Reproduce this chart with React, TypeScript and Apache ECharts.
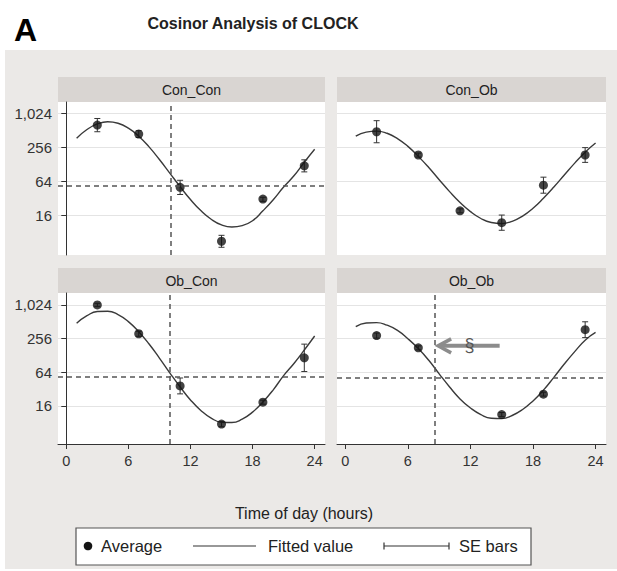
import React, { useEffect, useRef } from "react";
import * as echarts from "echarts";

const panelNames = ["Con_Con", "Con_Ob", "Ob_Con", "Ob_Ob"];
const sampleHours = [3, 7, 11, 15, 19, 23];
const fitHours = [1, 2, 3, 4, 5, 6, 7, 8, 9, 10, 11, 12, 13, 14, 15, 16, 17, 18, 19, 20, 21, 22, 23, 24];
const xTicks = [0, 6, 12, 18, 24];
const yTicks = [16, 64, 256, 1024];

const avgConCon = [626, 434, 49.5, 5.5, 30.7, 119];
const seLowConCon = [478, 378, 37, 4.3, 28, 93];
const seHighConCon = [820, 499, 66, 7.0, 33, 152];
const fitConCon = [367, 523, 657, 719, 676, 553, 399, 258, 154, 88.6, 50.9, 30.1, 19.2, 13.5, 10.7, 9.8, 10.4, 12.7, 19.0, 29.9, 50.2, 79.3, 138, 234];

const avgConOb = [478, 185, 19, 11.7, 54, 185];
const seLowConOb = [305, 170, 17.5, 8.6, 39, 137];
const seHighConOb = [750, 200, 20.6, 16, 75, 250];
const fitConOb = [399, 471, 491, 449, 362, 263, 175, 111, 67.6, 41.6, 26.7, 18.4, 13.9, 11.8, 11.3, 12.4, 15.3, 21.1, 31.8, 50.2, 82.1, 133, 208, 302];

const avgObCon = [1024, 313, 36.5, 7.6, 18.7, 116];
const seLowObCon = [955, 282, 26.3, 6.8, 17.2, 66];
const seHighObCon = [1097, 347, 50.6, 8.4, 20.3, 204];
const fitObCon = [481, 657, 781, 792, 690, 516, 340, 205, 115, 62.7, 35, 20.5, 13.3, 9.7, 8.2, 8.1, 9.3, 12.4, 18.8, 31.1, 55.7, 92, 160, 285];

const avgObOb = [290, 175, null, 11.2, 26, 370];
const seLowObOb = [261, 161, null, 10.3, 24, 267];
const seHighObOb = [322, 190, null, 12.2, 28.2, 512];
const fitObOb = [419, 488, 495, 445, 360, 255, 170, 105, 60, 35, 21.4, 14.7, 11.2, 9.65, 9.5, 10.8, 13.8, 19.7, 30.7, 52, 90, 150, 240, 330];

const refHour = [10.1, null, 10, 8.6];
const refLevel = [54, null, 54, 50.5];

const arrowTail = [14.8, 190];
const arrowHead = [8.9, 190];
const sectionAt = [11.9, 190];

const FONT = "'Liberation Sans', Arial, Helvetica, sans-serif";

const averages = [avgConCon, avgConOb, avgObCon, avgObOb];
const seLows = [seLowConCon, seLowConOb, seLowObCon, seLowObOb];
const seHighs = [seHighConCon, seHighConOb, seHighObCon, seHighObOb];
const fits = [fitConCon, fitConOb, fitObCon, fitObOb];

const gridBoxes = [
  { left: 58, top: 102, width: 267, height: 153 },
  { left: 337, top: 102, width: 269, height: 153 },
  { left: 58, top: 293, width: 267, height: 151 },
  { left: 337, top: 293, width: 269, height: 151 },
];
const yRanges = [
  [1.65, 10.65],
  [1.65, 10.65],
  [1.74, 10.71],
  [1.74, 10.71],
];
const xRange = [-0.8, 25];

const lg = (v: number | null) => (v == null ? null : Math.log2(v));

export default function App() {
  const ref = useRef<HTMLDivElement>(null);
  useEffect(() => {
    if (!ref.current) return;
    const chart = echarts.init(ref.current, undefined, { renderer: "svg" });

    const grids = gridBoxes.map((g) => ({ ...g, containLabel: false }));
    const xAxes = gridBoxes.map((_, i) => {
      const bottom = i >= 2;
      return {
        type: "value",
        gridIndex: i,
        min: xRange[0],
        max: xRange[1],
        axisLine: { show: bottom, onZero: false, lineStyle: { color: "#333", width: 1 } },
        axisTick: { show: bottom, length: 5, customValues: xTicks, lineStyle: { color: "#333" } },
        axisLabel: {
          show: bottom,
          customValues: xTicks,
          color: "#333",
          fontSize: 14.5,
          fontFamily: FONT,
          margin: 9,
        },
        splitLine: { show: false },
      };
    });
    const yAxes = gridBoxes.map((_, i) => {
      const left = i % 2 === 0;
      return {
        type: "value",
        gridIndex: i,
        min: yRanges[i][0],
        max: yRanges[i][1],
        axisLine: { show: left, lineStyle: { color: "#333", width: 1 } },
        axisTick: { show: left, length: 5, customValues: yTicks.map((v) => Math.log2(v)), lineStyle: { color: "#333" } },
        axisLabel: {
          show: left,
          customValues: yTicks.map((v) => Math.log2(v)),
          formatter: (v: number) => Math.round(Math.pow(2, v)).toLocaleString("en-US"),
          color: "#333",
          fontSize: 15,
          fontFamily: FONT,
          margin: 6,
        },
        splitLine: { show: true, lineStyle: { color: "#e4e4e4", width: 1 } },
      };
    });

    const series: any[] = [];
    for (let i = 0; i < 4; i++) {
      const markData: any[] = [];
      if (refHour[i] != null) markData.push({ xAxis: refHour[i] });
      if (refLevel[i] != null) markData.push({ yAxis: lg(refLevel[i]) });
      series.push({
        type: "line",
        name: "Fitted value",
        xAxisIndex: i,
        yAxisIndex: i,
        data: fitHours.map((h, j) => [h, lg(fits[i][j])]),
        smooth: true,
        showSymbol: false,
        lineStyle: { color: "#3a3a3a", width: 1.4 },
        z: 2,
        markLine: {
          silent: true,
          symbol: "none",
          label: { show: false },
          lineStyle: { color: "#555", type: [5, 4], width: 1.5 },
          data: markData,
        },
      });
      const eb = sampleHours
        .map((h, j) => (seLows[i][j] == null ? null : [h, lg(seLows[i][j]), lg(seHighs[i][j])]))
        .filter((d) => d != null);
      series.push({
        type: "custom",
        name: "SE bars",
        xAxisIndex: i,
        yAxisIndex: i,
        data: eb,
        encode: { x: 0, y: [1, 2] },
        z: 3,
        renderItem: (params: any, api: any) => {
          const x = api.value(0);
          const p1 = api.coord([x, api.value(1)]);
          const p2 = api.coord([x, api.value(2)]);
          const w = 3;
          const st = { stroke: "#333", lineWidth: 1 };
          return {
            type: "group",
            children: [
              { type: "line", shape: { x1: p1[0], y1: p1[1], x2: p2[0], y2: p2[1] }, style: st },
              { type: "line", shape: { x1: p1[0] - w, y1: p1[1], x2: p1[0] + w, y2: p1[1] }, style: st },
              { type: "line", shape: { x1: p2[0] - w, y1: p2[1], x2: p2[0] + w, y2: p2[1] }, style: st },
            ],
          };
        },
      });
      series.push({
        type: "scatter",
        name: "Average",
        xAxisIndex: i,
        yAxisIndex: i,
        data: sampleHours
          .map((h, j) => (averages[i][j] == null ? null : [h, lg(averages[i][j])]))
          .filter((d) => d != null),
        symbol: "circle",
        symbolSize: 9,
        itemStyle: { color: "#141414" },
        z: 4,
      });
    }

    const staticEls: any[] = [];
    staticEls.push({
      type: "rect",
      id: "bg",
      shape: { x: 5, y: 50, width: 612, height: 519 },
      style: { fill: "#ebe9e7" },
      z: -20,
      silent: true,
    });
    gridBoxes.forEach((g, i) => {
      staticEls.push({
        type: "rect",
        id: "plot" + i,
        shape: { x: g.left, y: g.top, width: g.width, height: g.height },
        style: { fill: "#ffffff" },
        z: -15,
        silent: true,
      });
      staticEls.push({
        type: "rect",
        id: "head" + i,
        shape: { x: g.left, y: g.top - 25, width: g.width, height: 25 },
        style: { fill: "#d9d5d2" },
        z: -15,
        silent: true,
      });
      staticEls.push({
        type: "text",
        id: "headt" + i,
        x: g.left + g.width / 2,
        y: g.top - 12.5,
        style: {
          text: panelNames[i],
          fill: "#222",
          font: `14px ${FONT}`,
          textAlign: "center",
          textVerticalAlign: "middle",
        },
        z: 10,
      });
    });
    staticEls.push({
      type: "text",
      id: "letterA",
      x: 14,
      y: 30,
      style: { text: "A", fill: "#000", font: `bold 32px ${FONT}`, textAlign: "left", textVerticalAlign: "middle" },
      z: 10,
    });
    staticEls.push({
      type: "text",
      id: "title",
      x: 253,
      y: 23,
      style: {
        text: "Cosinor Analysis of CLOCK",
        fill: "#222",
        font: `bold 16px ${FONT}`,
        textAlign: "center",
        textVerticalAlign: "middle",
      },
      z: 10,
    });
    staticEls.push({
      type: "text",
      id: "xname",
      x: 304,
      y: 513,
      style: {
        text: "Time of day (hours)",
        fill: "#222",
        font: `16px ${FONT}`,
        textAlign: "center",
        textVerticalAlign: "middle",
      },
      z: 10,
    });
    const ly = 546;
    staticEls.push({
      type: "rect",
      id: "legbox",
      shape: { x: 76, y: 528, width: 455, height: 37 },
      style: { fill: "#fff", stroke: "#555", lineWidth: 1.2 },
      z: -10,
    });
    staticEls.push({ type: "circle", id: "legdot", shape: { cx: 88, cy: ly, r: 4.3 }, style: { fill: "#141414" }, z: 10 });
    const legText = (id: string, x: number, t: string) => ({
      type: "text",
      id,
      x,
      y: ly,
      style: { text: t, fill: "#222", font: `16.5px ${FONT}`, textAlign: "left", textVerticalAlign: "middle" },
      z: 10,
    });
    staticEls.push(legText("legt1", 101, "Average"));
    staticEls.push({
      type: "line",
      id: "legline",
      shape: { x1: 193, y1: ly, x2: 256, y2: ly },
      style: { stroke: "#333", lineWidth: 1.2 },
      z: 10,
    });
    staticEls.push(legText("legt2", 268, "Fitted value"));
    staticEls.push({
      type: "line",
      id: "legse",
      shape: { x1: 384, y1: ly, x2: 449, y2: ly },
      style: { stroke: "#333", lineWidth: 1.2 },
      z: 10,
    });
    staticEls.push({
      type: "line",
      id: "legse1",
      shape: { x1: 384, y1: ly - 3.5, x2: 384, y2: ly + 3.5 },
      style: { stroke: "#333", lineWidth: 1.2 },
      z: 10,
    });
    staticEls.push({
      type: "line",
      id: "legse2",
      shape: { x1: 449, y1: ly - 3.5, x2: 449, y2: ly + 3.5 },
      style: { stroke: "#333", lineWidth: 1.2 },
      z: 10,
    });
    staticEls.push(legText("legt3", 459, "SE bars"));

    chart.setOption({
      animation: false,
      backgroundColor: "#ffffff",
      grid: grids,
      xAxis: xAxes,
      yAxis: yAxes,
      series,
      graphic: { elements: staticEls },
    });

    const tail = chart.convertToPixel({ gridIndex: 3 }, [arrowTail[0], Math.log2(arrowTail[1])]) as number[];
    const head = chart.convertToPixel({ gridIndex: 3 }, [arrowHead[0], Math.log2(arrowHead[1])]) as number[];
    const sec = chart.convertToPixel({ gridIndex: 3 }, [sectionAt[0], Math.log2(sectionAt[1])]) as number[];
    const arrowEls = [
      {
        type: "line",
        id: "arrowShaft",
        shape: { x1: tail[0], y1: tail[1], x2: head[0] + 2, y2: head[1] },
        style: { stroke: "#8c8c8c", lineWidth: 4 },
        z: 11,
      },
      {
        type: "polyline",
        id: "arrowHead",
        shape: { points: [[head[0] + 13, head[1] - 7], [head[0], head[1]], [head[0] + 13, head[1] + 7]] },
        style: { stroke: "#8c8c8c", lineWidth: 3.5, fill: null },
        z: 11,
      },
      {
        type: "text",
        id: "section",
        x: sec[0],
        y: sec[1] - 1,
        style: { text: "§", fill: "#555", font: `18px ${FONT}`, textAlign: "center", textVerticalAlign: "middle" },
        z: 12,
      },
    ];
    chart.setOption({ graphic: { elements: [...staticEls, ...arrowEls] } });

    return () => chart.dispose();
  }, []);
  return <div ref={ref} style={{ position: "fixed", left: 0, top: 0, width: 617, height: 571 }} />;
}
